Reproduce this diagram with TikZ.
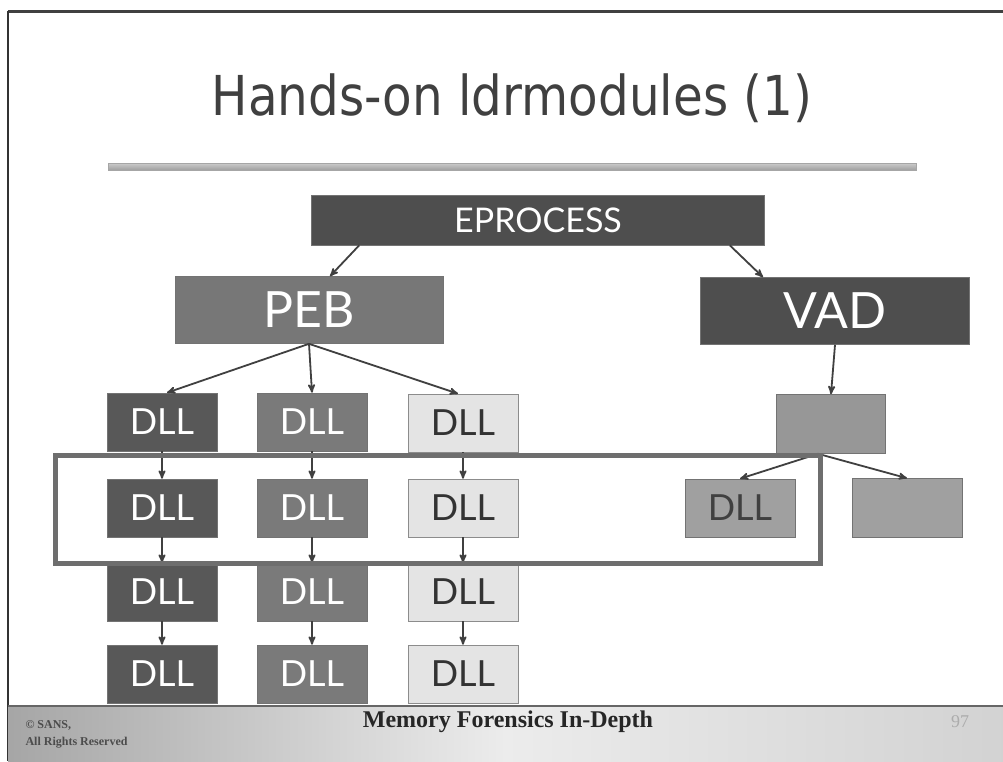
\documentclass[tikz,border=0pt]{standalone}
\usepackage{fontspec}
\setmainfont{Lato}
\newfontfamily\titlefont[FakeStretch=0.88]{DejaVu Sans}
\newfontfamily\slidefoot{Liberation Serif}
\usetikzlibrary{arrows,calc}
\definecolor{epgray}{HTML}{4E4E4E}
\definecolor{pebgray}{HTML}{777777}
\definecolor{colA}{HTML}{585858}
\definecolor{colB}{HTML}{7A7A7A}
\definecolor{colC}{HTML}{E4E4E4}
\definecolor{vadmid}{HTML}{979797}
\definecolor{vadlow}{HTML}{A0A0A0}
\definecolor{rim}{HTML}{6E6E6E}

\begin{document}
\begin{tikzpicture}[x=1pt,y=-1pt,>=stealth',
      link/.style={->,draw=black!75,line width=1.8pt},
      block/.style={rectangle,draw=black!55,line width=.6pt,inner sep=0pt,text=white},
      big/.style={block,minimum height=67,font=\fontsize{50}{50}\selectfont},
      dll/.style={block,minimum width=110,minimum height=58,font=\fontsize{36}{36}\selectfont},
      dllA/.style={dll,fill=colA},
      dllB/.style={dll,fill=colB},
      dllC/.style={dll,fill=colC,draw=black!45,text=black!80}]
    \useasboundingbox (0,0) rectangle (1003,761);
    \fill[white] (0,0) rectangle (1003,761);
    % slide frame
    \draw[black!75,line width=3pt] (8,11) -- (1003,11);
    \draw[black!80,line width=2pt] (8,11) -- (8,761);
    % title
    \node[anchor=base,text=black!75,font=\titlefont\fontsize{55}{55}\selectfont] (title) at (512,115) {Hands-on ldrmodules (1)};
    \shade[top color=gray!40,bottom color=gray!75,draw=gray!70] (108,163) rectangle (916,170);
    % top of the tree
    \node[block,fill=epgray,minimum width=453,minimum height=50,font=\fontsize{34}{34}\selectfont] at (538,220) (ep) {EPROCESS};
    \node[big,fill=pebgray,minimum width=268] at (309,310) (peb) {PEB};
    \node[big,fill=epgray,minimum width=269] at (835,311) (vad) {VAD};
    \draw[link] ($(ep.south west)+(48,0)$) -- ($(peb.north)+(21,0)$);
    \draw[link] ($(ep.south east)+(-35,0)$) -- ($(vad.north)+(-72,0)$);
    % DLL columns
    \node[dllA] at (162,422) (d11) {DLL}; \node[dllB] at (312,422) (d12) {DLL}; \node[dllC] at (463,423) (d13) {DLL};
    \node[dllA] at (162,508) (d21) {DLL}; \node[dllB] at (312,508) (d22) {DLL}; \node[dllC] at (463,508) (d23) {DLL};
    \node[dllA] at (162,592) (d31) {DLL}; \node[dllB] at (312,592) (d32) {DLL}; \node[dllC] at (463,592) (d33) {DLL};
    \node[dllA] at (162,674) (d41) {DLL}; \node[dllB] at (312,674) (d42) {DLL}; \node[dllC] at (463,674) (d43) {DLL};
    \draw[link] (peb.south) -- ($(d11.north)+(5,0)$);
    \draw[link] (peb.south) -- (d12.north);
    \draw[link] (peb.south) -- ($(d13.north)+(-5,0)$);
        \draw[link] (d11) -- (d21); \draw[link] (d21) -- (d31); \draw[link] (d31) -- (d41);
        \draw[link] (d12) -- (d22); \draw[link] (d22) -- (d32); \draw[link] (d32) -- (d42);
        \draw[link] (d13) -- (d23); \draw[link] (d23) -- (d33); \draw[link] (d33) -- (d43);
    % VAD side
    \node[block,fill=vadmid,minimum width=109,minimum height=59] at (831,424) (vm) {};
    \node[dll,fill=vadlow,text=black!75] at (740,508) (vd) {DLL};
    \node[block,fill=vadlow,minimum width=110,minimum height=59] at (907,508) (vx) {};
    \draw[link] (vad.south) -- (vm.north);
    \draw[link] ($(vm.south)+(-13,0)$) -- (vd.north);
    \draw[link] ($(vm.south)+(-13,0)$) -- (vx.north);
    % the modules that are in the loader lists but also in the VAD
    \draw[rim,line width=5pt] (55,455) rectangle (820,563);
    % footer
    \shade[left color=gray!70,right color=gray!35,middle color=gray!15] (8,706) rectangle (1003,761);
    \draw[black!60,line width=1.2pt] (8,706) -- (1003,706);
    \node[anchor=west,align=left,text=black!70,font=\slidefoot\bfseries\fontsize{12}{17}\selectfont] at (22,734) (copy) {© SANS,\\All Rights Reserved};
    \node[anchor=base,text=black!85,font=\slidefoot\bfseries\fontsize{24}{24}\selectfont] at (508,727) (course) {Memory Forensics In-Depth};
    \node[anchor=base,text=gray!65,font=\slidefoot\fontsize{18}{18}\selectfont] at (960,727) (page) {97};
      \end{tikzpicture}
\end{document}
